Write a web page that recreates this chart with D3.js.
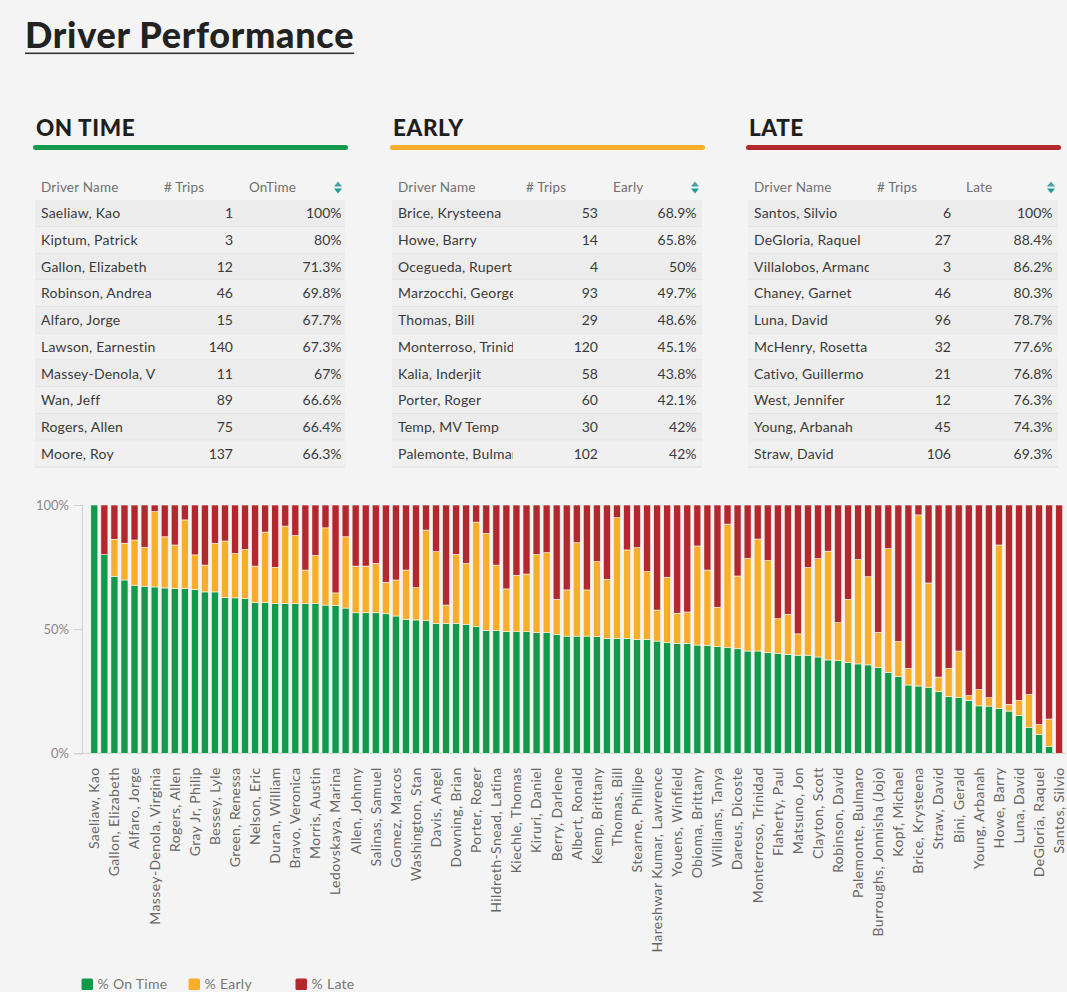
<!DOCTYPE html>
<html>
<head>
<meta charset="utf-8">
<script src="https://cdn.jsdelivr.net/npm/d3@7"></script>
<style>
  html, body { margin: 0; padding: 0; background: #f4f4f4; }
  svg { display: block; font-family: Lato, "Open Sans", sans-serif; }
</style>
</head>
<body>
<svg id="dash" width="1067" height="992"></svg>
<script>
// ---- top-10 tables ----
const onTimeNames = ["Saeliaw, Kao","Kiptum, Patrick","Gallon, Elizabeth","Robinson, Andrea","Alfaro, Jorge","Lawson, Earnestine","Massey-Denola, Virginia","Wan, Jeff","Rogers, Allen","Moore, Roy"];
const onTimeTrips = [1,3,12,46,15,140,11,89,75,137];
const onTimePct   = ["100%","80%","71.3%","69.8%","67.7%","67.3%","67%","66.6%","66.4%","66.3%"];

const earlyNames = ["Brice, Krysteena","Howe, Barry","Ocegueda, Rupert","Marzocchi, George","Thomas, Bill","Monterroso, Trinidad","Kalia, Inderjit","Porter, Roger","Temp, MV Temp","Palemonte, Bulmaro"];
const earlyTrips = [53,14,4,93,29,120,58,60,30,102];
const earlyPct   = ["68.9%","65.8%","50%","49.7%","48.6%","45.1%","43.8%","42.1%","42%","42%"];

const lateNames = ["Santos, Silvio","DeGloria, Raquel","Villalobos, Armand","Chaney, Garnet","Luna, David","McHenry, Rosetta","Cativo, Guillermo","West, Jennifer","Young, Arbanah","Straw, David"];
const lateTrips = [6,27,3,46,96,32,21,12,45,106];
const latePct   = ["100%","88.4%","86.2%","80.3%","78.7%","77.6%","76.8%","76.3%","74.3%","69.3%"];

// ---- stacked bar chart: one entry per driver, sorted by % on time ----
const drivers = [
  "Saeliaw, Kao","Kiptum, Patrick","Gallon, Elizabeth","Robinson, Andrea","Alfaro, Jorge","Lawson, Earnestine",
  "Massey-Denola, Virginia","Wan, Jeff","Rogers, Allen","Moore, Roy","Gray Jr, Philip","",
  "Bessey, Lyle","","Green, Renessa","","Nelson, Eric","","Duran, William","",
  "Bravo, Veronica","","Morris, Austin","","Ledovskaya, Marina","","Allen, Johnny","",
  "Salinas, Samuel","","Gomez, Marcos","","Washington, Stan","","Davis, Angel","",
  "Downing, Brian","","Porter, Roger","","Hildreth-Snead, Latina","","Kiechle, Thomas","",
  "Kiruri, Daniel","","Berry, Darlene","","Albert, Ronald","","Kemp, Brittany","",
  "Thomas, Bill","","Stearne, Phillipe","","Hareshwar Kumar, Lawrence","","Youens, Winfield","",
  "Obioma, Brittany","","Williams, Tanya","Marzocchi, George","Dareus, Dicoste","","Monterroso, Trinidad","",
  "Flaherty, Paul","","Matsuno, Jon","","Clayton, Scott","Kalia, Inderjit","Robinson, David","",
  "Palemonte, Bulmaro","","Burroughs, Jonnisha (Jojo)","Ocegueda, Rupert","Kopf, Michael","",
  "Brice, Krysteena","Temp, MV Temp","Straw, David","","Bini, Gerald","Cativo, Guillermo",
  "Young, Arbanah","McHenry, Rosetta","Howe, Barry","Chaney, Garnet","Luna, David","West, Jennifer",
  "DeGloria, Raquel","Villalobos, Armand","Santos, Silvio"
];
const pctOnTime = [
  100,80,71.3,69.8,67.7,67.3,67,66.6,66.4,66.3,
  66.0,65.0,65.0,62.8,62.6,62.3,60.7,60.7,60.3,60.3,
  60.3,60.3,60.3,59.7,59.6,58.5,56.6,56.6,56.6,56.2,
  55.3,54.0,53.7,53.4,52.3,52.3,52.3,51.8,51.0,49.4,
  49.4,49.0,49.0,49.0,48.6,48.6,47.9,47.2,47.2,47.2,
  47.0,46.3,46.3,46.3,45.9,45.9,45.2,44.6,44.3,44.3,
  43.6,43.5,43.0,42.6,42.1,41.2,41.2,40.5,40.3,39.9,
  39.5,39.5,38.8,37.6,37.3,36.5,36.0,35.6,34.5,32.5,
  30.9,27.5,27.1,26.6,24.8,22.8,22.4,21.3,19.1,19.0,
  18.1,17.0,15.2,10.5,7.6,2.7,0
];
const pctEarly = [
  0,0,14.9,14.8,18.2,15.7,30.3,20.6,17.5,27.7,
  13.9,10.8,19.6,22.7,17.9,19.8,14.7,28.4,14.6,31.2,
  27.4,13.5,19.4,31.1,5.0,28.7,18.8,18.8,19.9,12.7,
  14.5,19.8,13.0,36.5,28.9,7.4,27.8,24.7,42.1,39.2,
  26.4,17.2,22.7,23.2,31.5,32.2,14.1,18.6,37.6,18.6,
  30.2,23.8,48.6,35.6,36.9,27.3,12.5,26.3,12.1,12.6,
  39.9,30.3,15.8,49.7,29.3,37.3,45.1,37.1,13.9,16.1,
  8.6,35.3,39.6,43.8,15.3,25.5,42.0,35.5,14.2,50.0,
  14.1,6.7,68.9,42.0,5.9,11.4,18.8,1.9,6.6,3.4,
  65.8,2.7,6.1,13.2,4.0,11.1,0
];
const pctLate = [
  0,20,13.8,15.4,14.1,17.0,2.7,12.8,16.1,6.0,
  20.1,24.2,15.4,14.5,19.5,17.9,24.6,10.9,25.1,8.5,
  12.3,26.2,20.3,9.2,35.4,12.8,24.6,24.6,23.5,31.1,
  30.2,26.2,33.3,10.1,18.8,40.3,19.9,23.5,6.9,11.4,
  24.2,33.8,28.3,27.8,19.9,19.2,38.0,34.2,15.2,34.2,
  22.8,29.9,5.1,18.1,17.2,26.8,42.3,29.1,43.6,43.1,
  16.5,26.2,41.2,7.7,28.6,21.5,13.7,22.4,45.8,44.0,
  51.9,25.2,21.6,18.6,47.4,38.0,22.0,28.9,51.3,17.5,
  55.0,65.8,4.0,31.4,69.3,65.8,58.8,76.8,74.3,77.6,
  16.1,80.3,78.7,76.3,88.4,86.2,100
];
const yTicks = [0, 50, 100];
const seriesNames = ["% On Time", "% Early", "% Late"];
const seriesColors = ["#12994a", "#f9ae2b", "#b3282c"];

const svg = d3.select("#dash");

// ---- page title ----
const title = svg.append("text").attr("x", 25).attr("y", 48)
  .attr("font-size", 36).attr("font-weight", 900).attr("fill", "#222")
  .attr("letter-spacing", 0.7)
  .text("Driver Performance");
const tw = title.node().getComputedTextLength();
svg.append("rect").attr("x", 25).attr("y", 52.5).attr("width", tw).attr("height", 1.6).attr("fill", "#333");

// ---- three top-10 tables ----
const panels = [
  {title: "ON TIME", col: "OnTime", x: 33, color: seriesColors[0], names: onTimeNames, trips: onTimeTrips, pct: onTimePct},
  {title: "EARLY",   col: "Early",  x: 390, color: seriesColors[1], names: earlyNames,  trips: earlyTrips,  pct: earlyPct},
  {title: "LATE",    col: "Late",   x: 746, color: seriesColors[2], names: lateNames,   trips: lateTrips,   pct: latePct}
];
const rowY = d3.scaleBand().domain(d3.range(10)).range([200, 467]).padding(0);

// names are cut off at the edge of their column
svg.append("clipPath").attr("id", "nameclip")
  .append("rect").attr("x", 0).attr("y", 0).attr("width", 123).attr("height", rowY.bandwidth());

panels.forEach((p, pi) => {
  const g = svg.append("g").attr("transform", `translate(${p.x},0)`);
  g.append("text").attr("x", 3).attr("y", 136).attr("font-size", 22.5).attr("font-weight", 900)
    .attr("letter-spacing", 0.6).attr("fill", "#1e1e1e").text(p.title);
  g.append("rect").attr("x", 0).attr("y", 145).attr("width", 315).attr("height", 5).attr("rx", 2.5)
    .attr("fill", p.color);

  // header
  const hy = 192;
  const hdr = (xx, t) => g.append("text").attr("x", xx).attr("y", hy).attr("font-size", 13.5)
    .attr("fill", "#707070").attr("letter-spacing", 0.2).text(t);
  hdr(8, "Driver Name");
  hdr(pi === 1 ? 136 : 131, "# Trips");
  hdr(pi === 0 ? 216 : (pi === 1 ? 223 : 220), p.col);
  const ix = 305, iy = 187.5;
  g.append("path").attr("d", `M${ix-4},${iy-1} L${ix},${iy-6} L${ix+4},${iy-1} Z`).attr("fill", "#4b9fa6");
  g.append("path").attr("d", `M${ix-4},${iy+1} L${ix},${iy+6} L${ix+4},${iy+1} Z`).attr("fill", "#1f9c97");

  const rows = g.selectAll("g.row").data(p.names).join("g").attr("class", "row")
    .attr("transform", (d, i) => `translate(0,${rowY(i)})`);
  rows.append("rect").attr("x", 2).attr("y", 0).attr("width", 310).attr("height", rowY.bandwidth())
    .attr("fill", (d, i) => i % 2 === 0 ? "#ececec" : "#f0f0f0");
  rows.append("line").attr("x1", 2).attr("x2", 312).attr("y1", rowY.bandwidth()).attr("y2", rowY.bandwidth())
    .attr("stroke", "#dcdcdc").attr("stroke-width", 1);
  rows.append("text").attr("x", 8).attr("y", rowY.bandwidth() / 2 + 5).attr("font-size", 14)
    .attr("letter-spacing", 0.2).attr("fill", "#3a3a3a").attr("clip-path", "url(#nameclip)").text(d => d);
  rows.append("text").attr("x", pi === 0 ? 200 : (pi === 1 ? 208 : 205)).attr("y", rowY.bandwidth() / 2 + 5)
    .attr("font-size", 14).attr("fill", "#3a3a3a").attr("text-anchor", "end").text((d, i) => p.trips[i]);
  rows.append("text").attr("x", pi === 0 ? 308.5 : 306.5).attr("y", rowY.bandwidth() / 2 + 5)
    .attr("font-size", 14).attr("fill", "#3a3a3a").attr("text-anchor", "end").text((d, i) => p.pct[i]);
});

// ---- stacked percentage bars ----
const table = drivers.map((name, i) => ({idx: i, name, onTime: pctOnTime[i], early: pctEarly[i], late: pctLate[i]}));
const keys = ["onTime", "early", "late"];
const stack = d3.stack().keys(keys)(table);

const x = d3.scaleBand().domain(d3.range(drivers.length)).range([89.3, 1064.2]).paddingInner(0.3).paddingOuter(0.15);
const y = d3.scaleLinear().domain([0, 100]).range([753.3, 505]);
const color = d3.scaleOrdinal().domain(keys).range(seriesColors);

svg.append("line").attr("x1", 82).attr("x2", 1066).attr("y1", y(0)).attr("y2", y(0)).attr("stroke", "#cfcfcf");

svg.append("g").selectAll("g").data(stack).join("g").attr("fill", d => color(d.key))
  .selectAll("rect").data(d => d).join("rect")
  .attr("x", d => x(d.data.idx))
  .attr("width", x.bandwidth())
  .attr("y", d => y(d[1]))
  .attr("height", d => Math.max(0, y(d[0]) - y(d[1])))
  .attr("stroke", "#fbfbfb").attr("stroke-width", 0.6);

// y axis
const yAxis = svg.append("g").attr("transform", "translate(82,0)")
  .call(d3.axisLeft(y).tickValues(yTicks).tickSize(8).tickPadding(5).tickFormat(d => d + "%"));
yAxis.select(".domain").attr("stroke", "#cfcfcf");
yAxis.selectAll(".tick line").attr("stroke", "#cfcfcf");
yAxis.selectAll(".tick text").attr("fill", "#8a8a8a").attr("font-size", 13).attr("font-family", "Lato, sans-serif");

// x axis: every other driver is labelled
const xAxis = svg.append("g").attr("transform", `translate(0,${y(0)})`)
  .call(d3.axisBottom(x).tickValues(d3.range(0, drivers.length, 2)).tickSize(0).tickFormat(i => drivers[i]));
xAxis.select(".domain").remove();
xAxis.selectAll(".tick text")
  .attr("font-size", 14).attr("letter-spacing", 0.4).attr("font-family", "Lato, sans-serif").attr("fill", "#666")
  .attr("text-anchor", "end").attr("transform", "rotate(-90)")
  .attr("x", -14).attr("y", 0).attr("dy", "0.35em");

// legend
const legend = svg.append("g").selectAll("g").data(seriesNames).join("g")
  .attr("transform", (d, i) => `translate(${[81.5, 188.5, 295.5][i]},978.5)`);
legend.append("rect").attr("width", 11.5).attr("height", 11.5).attr("rx", 1.5).attr("fill", (d, i) => seriesColors[i]);
legend.append("text").attr("x", 16).attr("y", 10.5).attr("font-size", 14).attr("letter-spacing", 0.3)
  .attr("fill", "#777").text(d => d);
</script>
</body>
</html>
